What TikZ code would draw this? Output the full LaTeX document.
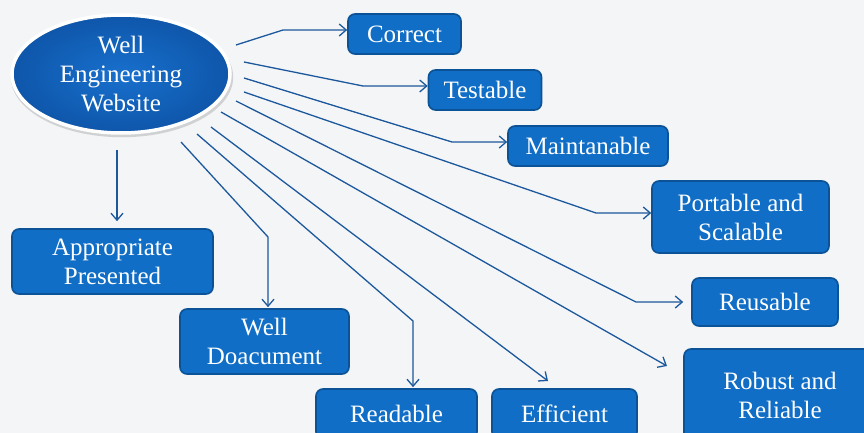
\documentclass[tikz,border=0pt]{standalone}
\usepackage{fontspec}
\setmainfont{Liberation Serif}
\usetikzlibrary{arrows.meta,shadows,calc,shapes.geometric}
\definecolor{bg}{RGB}{244,245,247}
\definecolor{boxfill}{RGB}{16,110,198}
\definecolor{boxline}{RGB}{12,82,150}
\definecolor{conn}{RGB}{28,88,156}
\tikzset{
  box/.style={draw=boxline, line width=1.6pt, fill=boxfill, rounded corners=7pt,
    text=white, align=center, font=\fontsize{25}{29}\selectfont, inner sep=0pt},
  link/.style={draw=conn, line width=1.3pt, -{Straight Barb[length=7pt,width=12pt,line width=1.3pt]}},
}
\begin{document}
\begin{tikzpicture}[x=1pt,y=-1pt]
\useasboundingbox (0,0) rectangle (864,433);
\fill[bg] (0,0) rectangle (864,433);
\begin{scope}
\clip (0,0) rectangle (864,433);
% central ellipse
\node (hub) [ellipse, minimum width=218pt, minimum height=118pt, draw=white, line width=3.5pt,
  inner color={rgb,255:red,24;green,112;blue,205}, outer color={rgb,255:red,14;green,86;blue,170},
  drop shadow={opacity=0.3, shadow xshift=1pt, shadow yshift=-3pt, shadow scale=1.02},
  text=white, align=center, font=\fontsize{25}{29}\selectfont, inner sep=0pt] at (121,74)
  {Well\\Engineering\\Website};
% boxes
\node (cor) [box, minimum width=113pt, minimum height=40pt] at (404.5,34) {Correct};
\node (tes) [box, minimum width=113pt, minimum height=40pt] at (485,90) {Testable};
\node (mai) [box, minimum width=160pt, minimum height=40pt] at (588,146) {Maintanable};
\node (por) [box, minimum width=177pt, minimum height=72pt] at (740.5,217) {Portable and\\Scalable};
\node (reu) [box, minimum width=146pt, minimum height=48pt] at (765,302) {Reusable};
\node (rob) [box, minimum width=192pt, minimum height=92pt] at (780,395) {Robust and\\Reliable};
\node (rea) [box, minimum width=161pt, minimum height=50pt] at (396.5,414) {Readable};
\node (eff) [box, minimum width=145pt, minimum height=50pt] at (564.5,414) {Efficient};
\node (doc) [box, minimum width=169pt, minimum height=65pt] at (264.5,341.5) {Well\\Doacument};
\node (app) [box, minimum width=201pt, minimum height=65pt] at (112.5,261.5) {Appropriate\\Presented};
% start points
\coordinate (s1) at (236,45);
\coordinate (s2) at (244,62);
\coordinate (s3) at (244,78);
\coordinate (s4) at (244,92);
\coordinate (s5) at (236,101);
\coordinate (s6) at (221,112);
\coordinate (s7) at (211,127);
\coordinate (s8) at (197,134);
\coordinate (s9) at (181,142);
\coordinate (s10) at (117,150);
% bends
\coordinate (b1) at (283,30);
\coordinate (b2) at (363,86);
\coordinate (b3) at (452,142);
\coordinate (b4) at (596,213);
\coordinate (b5) at (636,302);
\coordinate (b8) at (413,321);
\coordinate (b9) at (268,237);
% connectors
\draw[link] (s1) -- (b1) -- (b1 -| cor.west);
\draw[link] (s2) -- (b2) -- (b2 -| tes.west);
\draw[link] (s3) -- (b3) -- (b3 -| mai.west);
\draw[link] (s4) -- (b4) -- (b4 -| por.west);
\draw[link, shorten >=8pt] (s5) -- (b5) -- (b5 -| reu.west);
\draw[link] (s6) -- (667,366) coordinate (e6);
\draw[link] (s7) -- (548,381) coordinate (e7);
\draw[link, shorten >=1pt] (s8) -- (b8) -- (b8 |- rea.north);
\draw[link, shorten >=1pt] (s9) -- (b9) -- (b9 |- doc.north);
\draw[link, shorten >=7pt] (s10) -- (s10 |- app.north);
\end{scope}
\end{tikzpicture}
\end{document}
